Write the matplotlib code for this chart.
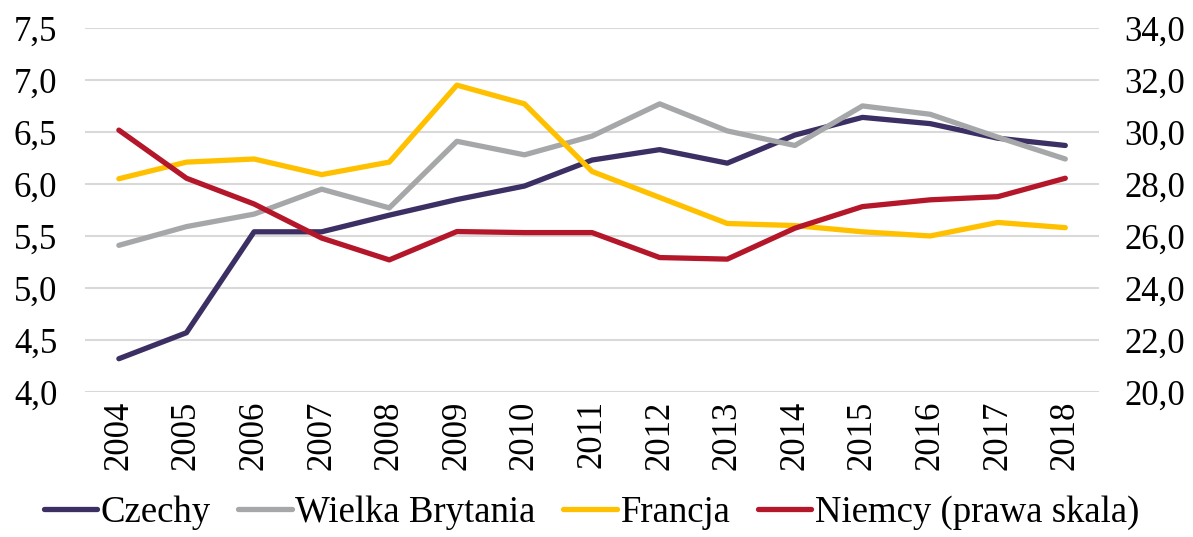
import matplotlib
matplotlib.use('Agg')
import matplotlib.pyplot as plt
from matplotlib.ticker import FuncFormatter

plt.rcParams['font.family'] = ['Liberation Serif', 'DejaVu Serif']

years = [str(y) for y in range(2004, 2019)]

czechy = [4.32, 4.57, 5.54, 5.54, 5.70, 5.85, 5.98, 6.23, 6.33, 6.20, 6.47, 6.64, 6.58, 6.44, 6.37]
wielka_brytania = [5.41, 5.59, 5.71, 5.95, 5.77, 6.41, 6.28, 6.46, 6.77, 6.51, 6.37, 6.75, 6.67, 6.45, 6.24]
francja = [6.05, 6.21, 6.24, 6.09, 6.21, 6.95, 6.77, 6.12, 5.87, 5.62, 5.60, 5.54, 5.50, 5.63, 5.58]
niemcy = [30.07, 28.22, 27.23, 25.92, 25.08, 26.17, 26.13, 26.13, 25.17, 25.11, 26.30, 27.13, 27.39, 27.51, 28.22]

left_ticks = [4.0, 4.5, 5.0, 5.5, 6.0, 6.5, 7.0, 7.5]
right_ticks = [20.0, 22.0, 24.0, 26.0, 28.0, 30.0, 32.0, 34.0]

c_cz = '#3b2f63'
c_wb = '#a5a7a9'
c_fr = '#ffc000'
c_de = '#b5172a'

fig = plt.figure(figsize=(11.93, 5.37), dpi=100)
ax = fig.add_axes([0.0713, 0.27, 0.85, 0.678])
ax2 = ax.twinx()

x = list(range(len(years)))
lw = 3.8
l1, = ax.plot(x, czechy, color=c_cz, linewidth=lw, solid_capstyle='round', label='Czechy', zorder=3)
l2, = ax.plot(x, wielka_brytania, color=c_wb, linewidth=lw, solid_capstyle='round', label='Wielka Brytania', zorder=3)
l3, = ax.plot(x, francja, color=c_fr, linewidth=lw, solid_capstyle='round', label='Francja', zorder=3)
l4, = ax2.plot(x, niemcy, color=c_de, linewidth=lw, solid_capstyle='round', label='Niemcy (prawa skala)', zorder=3)

ax.set_xlim(-0.5, len(years) - 0.5)
ax.set_ylim(4.0, 7.5)
ax2.set_ylim(20.0, 34.0)
ax.set_yticks(left_ticks)
ax2.set_yticks(right_ticks)
comma = FuncFormatter(lambda v, p: f'{v:.1f}'.replace('.', ','))
ax.yaxis.set_major_formatter(comma)
ax2.yaxis.set_major_formatter(comma)

ax.set_xticks(x)
ax.set_xticklabels(years, rotation=90)

ax.grid(axis='y', color='#d9d9d9', linewidth=1.5, zorder=0)
ax.set_axisbelow(True)
for a in (ax, ax2):
    for s in a.spines.values():
        s.set_visible(False)
    a.tick_params(length=0, labelsize=25, colors='black')
ax.tick_params(axis='y', pad=20)
ax2.tick_params(axis='y', pad=18)
ax.tick_params(axis='x', pad=6)

fig.legend(handles=[l1, l2, l3, l4], loc='lower left', bbox_to_anchor=(0.015, -0.035),
           ncol=4, frameon=False, fontsize=26.5, handlelength=1.45, handletextpad=0.1,
           columnspacing=0.75, borderpad=0.2)

plt.savefig('out.png', dpi=100)
